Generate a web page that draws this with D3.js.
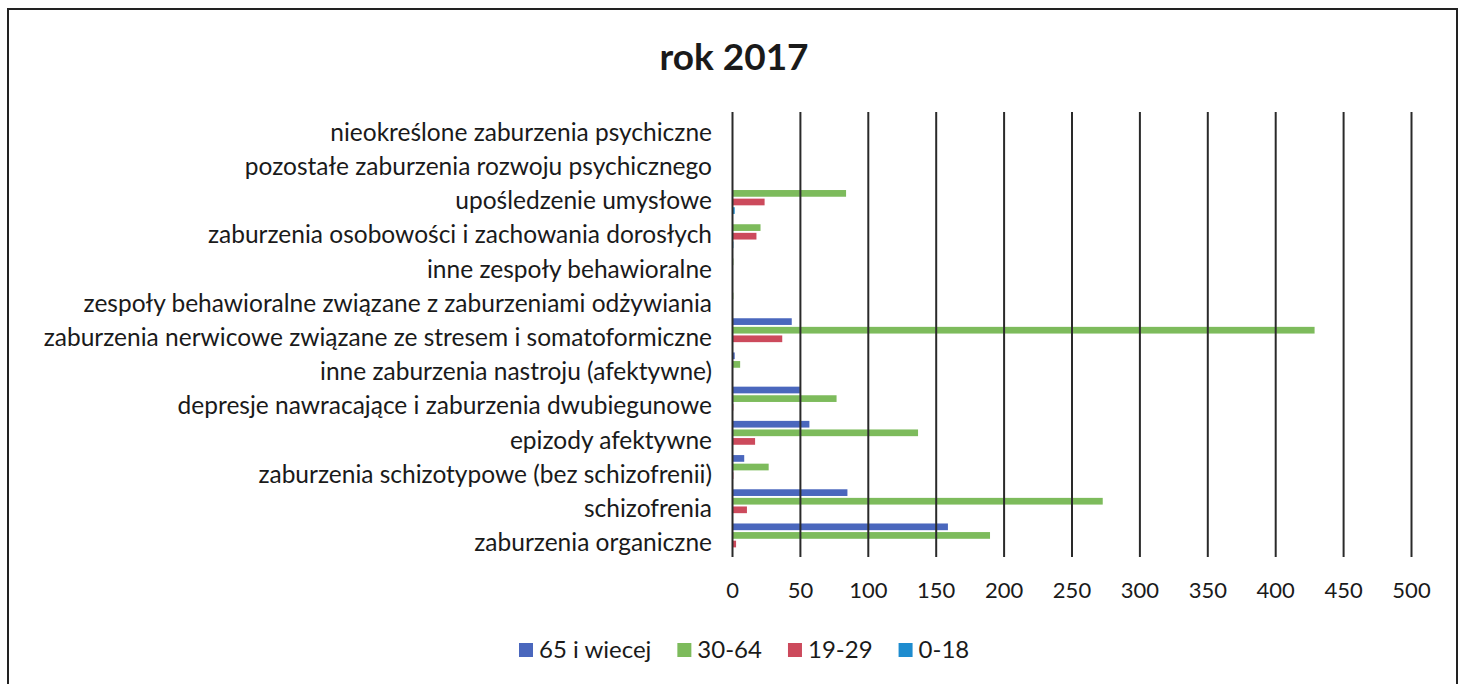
<!DOCTYPE html>
<html>
<head>
  <meta charset="utf-8">
  <script src="https://cdn.jsdelivr.net/npm/d3@7/dist/d3.min.js"></script>
  <style>
    body { margin: 0; background: #fff; }
    text { font-family: Lato, "Open Sans", sans-serif; fill: #1a1a1a; }
  </style>
</head>
<body>
  <svg id="chart" width="1466" height="684"></svg>
  <script>
    // kategorie od dołu do góry (jak w Excelu)
    var categories = [
      "zaburzenia organiczne",
      "schizofrenia",
      "zaburzenia schizotypowe (bez schizofrenii)",
      "epizody afektywne",
      "depresje nawracające i zaburzenia dwubiegunowe",
      "inne zaburzenia nastroju (afektywne)",
      "zaburzenia nerwicowe związane ze stresem i somatoformiczne",
      "zespoły behawioralne związane z zaburzeniami odżywiania",
      "inne zespoły behawioralne",
      "zaburzenia osobowości i zachowania dorosłych",
      "upośledzenie umysłowe",
      "pozostałe zaburzenia rozwoju psychicznego",
      "nieokreślone zaburzenia psychiczne"
    ];
    var seriesNames = ["65 i wiecej", "30-64", "19-29", "0-18"];
    var age65 = [159, 85, 9, 57, 50, 2, 44, 0, 0, 0, 0, 0, 0];
    var age30_64 = [190, 273, 27, 137, 77, 6, 429, 1, 1, 21, 84, 0, 0];
    var age19_29 = [3, 11, 1, 17, 1, 0, 37, 0, 0, 18, 24, 0, 0];
    var age0_18 = [0, 0, 0, 0, 0, 0, 0, 0, 0, 1, 2, 0, 0];
    var tickValues = [0, 50, 100, 150, 200, 250, 300, 350, 400, 450, 500];

    var seriesValues = [age65, age30_64, age19_29, age0_18];
    var colors = ["#4a67bd", "#7dbb5c", "#cc4a5c", "#1e8ccf"];

    var svg = d3.select("#chart");

    // ramka
    svg.append("rect")
      .attr("x", 8).attr("y", 9)
      .attr("width", 1449).attr("height", 700)
      .attr("fill", "none").attr("stroke", "#222").attr("stroke-width", 2);

    // tytuł
    svg.append("text")
      .attr("x", 734).attr("y", 70)
      .attr("text-anchor", "middle")
      .style("font-size", "37px").style("font-weight", "bold")
      .text("rok 2017");

    var x = d3.scaleLinear().domain([0, 500]).range([732, 1411]);
    var y = d3.scaleBand()
      .domain(categories.slice().reverse())
      .range([112, 557])
      .paddingInner(0.05).paddingOuter(0.03);
    var yInner = d3.scaleBand()
      .domain(seriesNames)
      .range([0, y.bandwidth()])
      .paddingInner(0.22);

    // słupki
    seriesNames.forEach(function(s, si) {
      svg.append("g").selectAll("rect")
        .data(categories)
        .enter()
        .append("rect")
        .attr("x", x(0))
        .attr("y", function(d) { return y(d) + yInner(s); })
        .attr("width", function(d, i) { return x(seriesValues[si][i]) - x(0); })
        .attr("height", yInner.bandwidth())
        .attr("fill", colors[si]);
    });

    // linie siatki + etykiety osi
    var axis = svg.append("g")
      .attr("transform", "translate(0,557)")
      .call(d3.axisBottom(x).tickValues(tickValues).tickSize(-(557 - 112)).tickPadding(25));
    axis.select(".domain").remove();
    axis.selectAll(".tick line").attr("stroke", "#2a2a2a").attr("stroke-width", 2);
    axis.selectAll(".tick text")
      .style("font-size", "22px").style("font-family", "Lato, sans-serif").attr("fill", "#1a1a1a");

    // etykiety kategorii
    svg.append("g").selectAll("text")
      .data(categories)
      .enter()
      .append("text")
      .attr("x", 712)
      .attr("y", function(d) { return y(d) + y.bandwidth() / 2 + 3; })
      .attr("dy", "0.35em")
      .attr("text-anchor", "end")
      .style("font-size", "24.5px")
      .text(function(d) { return d; });

    // legenda
    var lx = 519;
    seriesNames.forEach(function(s, si) {
      var g = svg.append("g").attr("transform", "translate(" + lx + ",650)");
      g.append("rect").attr("x", 0).attr("y", -7).attr("width", 14).attr("height", 14).attr("fill", colors[si]);
      var t = g.append("text").attr("x", 20).attr("dy", "0.35em").style("font-size", "24px").text(s);
      lx += 20 + t.node().getComputedTextLength() + 26;
    });
  </script>
</body>
</html>
